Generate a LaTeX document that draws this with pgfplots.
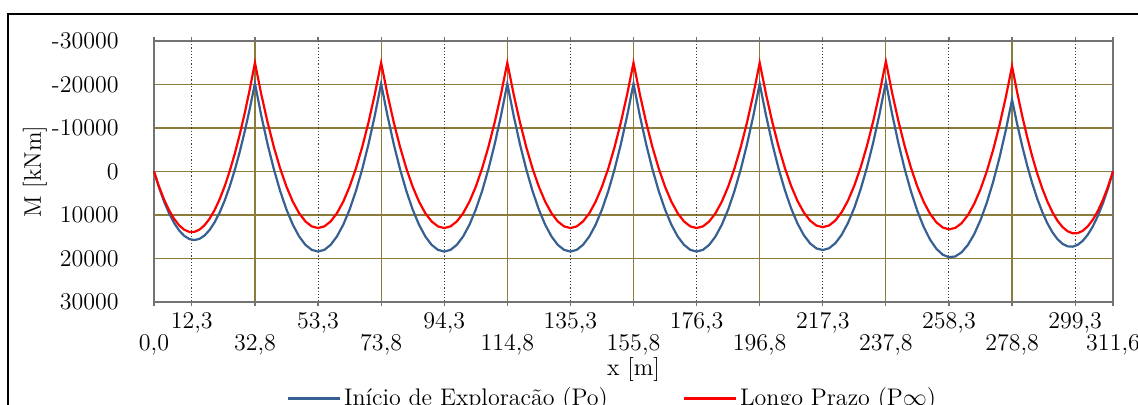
\documentclass[border=0pt]{standalone}
\usepackage{fontspec}
\usepackage{pgfplots}
\usepackage{pgfplotstable}
\pgfplotsset{compat=1.18}
\definecolor{po}{RGB}{55,96,146}
\definecolor{pinf}{RGB}{255,0,0}
\definecolor{olive}{RGB}{140,124,60}
\pgfplotstableread{
x blue red
0 0 0
1.64 3711 3476
3.28 6925 6455
4.92 9641 8936
6.56 11860 10920
8.20 13581 12406
9.84 14805 13395
11.48 15531 13886
13.12 15760 13880
14.76 15491 13376
16.40 14725 12375
18.04 13461 10876
19.68 11700 8880
21.32 9441 6386
22.96 6685 3395
24.60 3431 -94
26.24 -320 -4080
27.88 -4569 -8564
29.52 -9315 -13545
31.16 -14559 -19024
32.80 -20250 -25000
34.85 -12866 -17780
36.90 -6304 -11320
38.95 -514 -5620
41.00 4504 -680
43.05 8750 3500
45.10 12224 6920
47.15 14926 9580
49.20 16856 11480
51.25 18014 12620
53.30 18400 13000
55.35 18014 12620
57.40 16856 11480
59.45 14926 9580
61.50 12224 6920
63.55 8750 3500
65.60 4504 -680
67.65 -514 -5620
69.70 -6304 -11320
71.75 -12866 -17780
73.80 -20200 -25000
75.85 -12866 -17780
77.90 -6304 -11320
79.95 -514 -5620
82.00 4504 -680
84.05 8750 3500
86.10 12224 6920
88.15 14926 9580
90.20 16856 11480
92.25 18014 12620
94.30 18400 13000
96.35 18014 12620
98.40 16856 11480
100.45 14926 9580
102.50 12224 6920
104.55 8750 3500
106.60 4504 -680
108.65 -514 -5620
110.70 -6304 -11320
112.75 -12866 -17780
114.80 -20200 -25000
116.85 -12866 -17780
118.90 -6304 -11320
120.95 -514 -5620
123.00 4504 -680
125.05 8750 3500
127.10 12224 6920
129.15 14926 9580
131.20 16856 11480
133.25 18014 12620
135.30 18400 13000
137.35 18014 12620
139.40 16856 11480
141.45 14926 9580
143.50 12224 6920
145.55 8750 3500
147.60 4504 -680
149.65 -514 -5620
151.70 -6304 -11320
153.75 -12866 -17780
155.80 -20200 -25000
157.85 -12866 -17780
159.90 -6304 -11320
161.95 -514 -5620
164.00 4504 -680
166.05 8750 3500
168.10 12224 6920
170.15 14926 9580
172.20 16856 11480
174.25 18014 12620
176.30 18400 13000
178.35 18014 12620
180.40 16856 11480
182.45 14926 9580
184.50 12224 6920
186.55 8750 3500
188.60 4504 -680
190.65 -514 -5620
192.70 -6304 -11320
194.75 -12866 -17780
196.80 -20200 -25000
198.85 -12914 -17804
200.90 -6398 -11368
202.95 -650 -5690
205.00 4328 -772
207.05 8538 3388
209.10 11978 6788
211.15 14650 9430
213.20 16552 11312
215.25 17686 12436
217.30 18050 12800
219.35 17646 12406
221.40 16472 11252
223.45 14530 9340
225.50 11818 6668
227.55 8338 3238
229.60 4088 -952
231.65 -930 -5900
233.70 -6718 -11608
235.75 -13274 -18074
237.80 -20600 -25300
239.85 -13127 -18015
241.90 -6420 -11492
243.95 -477 -5729
246.00 4700 -728
248.05 9113 3513
250.10 12760 6992
252.15 15643 9711
254.20 17760 11668
256.25 19113 12865
258.30 19700 13300
260.35 19523 12975
262.40 18580 11888
264.45 16873 10041
266.50 14400 7432
268.55 11163 4063
270.60 7160 -68
272.65 2393 -4959
274.70 -3140 -10612
276.75 -9437 -17025
278.80 -16500 -24200
280.44 -10949 -18264
282.08 -5895 -12825
283.72 -1339 -7884
285.36 2720 -3440
287.00 6281 506
288.64 9345 3955
290.28 11911 6906
291.92 13980 9360
293.56 15551 11316
295.20 16625 12775
296.84 17201 13736
298.48 17280 14200
300.12 16861 14166
301.76 15945 13635
303.40 14531 12606
305.04 12620 11080
306.68 10211 9056
308.32 7305 6535
309.96 3901 3516
311.60 0 0
}\datatable
\begin{document}
\fontsize{12}{14.4}\selectfont
\begin{tikzpicture}
\begin{axis}[
  scale only axis,
  width=479.5pt, height=130.5pt,
  xmin=0, xmax=311.6,
  ymin=-30000, ymax=30000,
  y dir=reverse,
  scaled y ticks=false, scaled x ticks=false,
  ytick={-30000,-20000,-10000,0,10000,20000,30000},
  yticklabels={-30000,-20000,-10000,0,10000,20000,30000},
  yticklabel style={xshift=-11.5pt},
  ytick style={draw=none},
  xtick={0,32.8,73.8,114.8,155.8,196.8,237.8,278.8,311.6},
  xticklabels={{0,0},{32,8},{73,8},{114,8},{155,8},{196,8},{237,8},{278,8},{311,6}},
  xticklabel style={yshift=-10pt},
  extra x ticks={12.3,53.3,94.3,135.3,176.3,217.3,258.3,299.3},
  extra x tick labels={{12,3},{53,3},{94,3},{135,3},{176,3},{217,3},{258,3},{299,3}},
  extra x tick style={
    xticklabel style={yshift=11pt},
    major grid style={densely dotted, black!75, line width=0.5pt},
  },
  tick align=outside,
  major tick length=2pt,
  xtick style={black!55, line width=0.6pt},
  grid=major,
  major grid style={olive, line width=0.6pt},
  axis line style={black!55, line width=0.8pt},
  xlabel={x [m]},
  ylabel={M [kNm]},
  xlabel style={at={(axis description cs:0.5,-0.2605)}, anchor=center},
  ylabel style={at={(axis description cs:-0.1241,0.5)}, anchor=center},
  legend columns=2,
  legend style={at={(axis description cs:0.4786,-0.37)}, anchor=center,
    draw=none, fill=none, nodes={inner sep=1.5pt},
    /tikz/every even column/.append style={column sep=36pt}},
  legend image code/.code={\draw[#1] (0pt,0pt) -- (26pt,0pt);},
  clip=false,
]
\addplot[po, line width=1.1pt] table[x=x, y=blue] {\datatable};
\addlegendentry{Início de Exploração (Po)}
\addplot[pinf, line width=1.1pt] table[x=x, y=red] {\datatable};
\addlegendentry{Longo Prazo (P$\infty$)}
\end{axis}
\draw[black, line width=1pt] (-73pt,-60pt) -- (-73pt,144pt) -- (500pt,144pt);
\pgfresetboundingbox
\path[use as bounding box] (-77pt,-51.5pt) rectangle (492pt,151pt);
\end{tikzpicture}
\end{document}
